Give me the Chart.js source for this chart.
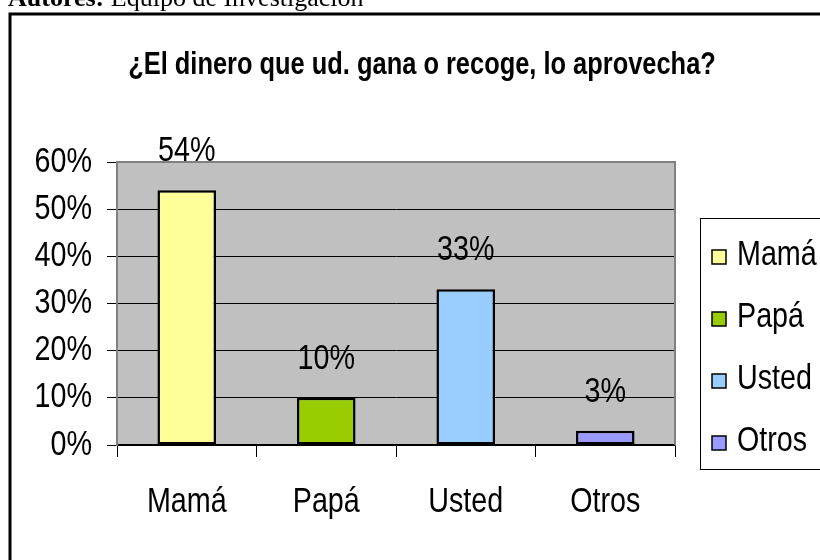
<!DOCTYPE html>
<html lang="es">
<head>
    <meta charset="UTF-8">
    <title>¿El dinero que ud. gana o recoge, lo aprovecha?</title>
    <script src="https://cdn.jsdelivr.net/npm/chart.js"></script>
    <style>
        html, body { margin: 0; padding: 0; background: #fff; overflow: hidden; }
        .contenedor { position: relative; width: 820px; height: 560px; }
        .autores {
            position: absolute; left: 8px; top: -15px; z-index: 2;
            font-family: 'Liberation Serif', 'Times New Roman', serif;
            font-size: 26px; line-height: 26px; white-space: nowrap; color: #000;
        }
        canvas { position: absolute; left: 0; top: 0; }
    </style>
</head>
<body>

    <div class="contenedor">
        <div class="autores"><b>Autores:</b> Equipo de Investigación</div>
        <canvas id="graficoDinero" width="820" height="560"></canvas>
    </div>

    <script>
    // datos del grafico
    const categorias = ['Mamá', 'Papá', 'Usted', 'Otros'];
    const porcentajes = [54, 10, 33, 3];
    const colores = ['#FFFF99', '#99CC00', '#99CCFF', '#9999FF'];
    const tituloTexto = '¿El dinero que ud. gana o recoge, lo aprovecha?';

    const fuente = "'Liberation Sans', Arial, sans-serif";
    const ESTRECHO = 0.82; // simula Arial Narrow

    // texto angosto: Liberation Sans comprimido en horizontal
    function textoAngosto(ctx, txt, x, y, align, size, bold, baseline) {
        ctx.save();
        ctx.translate(x, y);
        ctx.scale(ESTRECHO, 1);
        ctx.font = (bold ? 'bold ' : '') + size + 'px ' + fuente;
        ctx.textAlign = align;
        ctx.textBaseline = baseline || 'alphabetic';
        ctx.fillStyle = '#000';
        ctx.fillText(txt, 0, 0);
        ctx.restore();
    }

    // fondo gris, marco, titulo, etiquetas, leyenda
    const fondoPlugin = {
        id: 'fondo',
        beforeDraw(chart) {
            const ctx = chart.ctx;
            const a = chart.chartArea;
            ctx.save();
            ctx.fillStyle = '#fff';
            ctx.fillRect(0, 0, chart.width, chart.height);
            ctx.strokeStyle = '#000';
            ctx.lineWidth = 3;
            ctx.strokeRect(10, 14, 1000, 1000);
            ctx.fillStyle = '#C0C0C0';
            ctx.fillRect(a.left, a.top, a.right - a.left, a.bottom - a.top);
            ctx.restore();
            textoAngosto(ctx, tituloTexto, 422, 74, 'center', 31, true);
        },
        afterDraw(chart) {
            const ctx = chart.ctx;
            const a = chart.chartArea;
            ctx.save();
            // borde gris arriba y derecha
            ctx.strokeStyle = '#808080';
            ctx.lineWidth = 2;
            ctx.beginPath();
            ctx.moveTo(a.left, a.top);
            ctx.lineTo(a.right, a.top);
            ctx.lineTo(a.right, a.bottom);
            ctx.stroke();
            ctx.restore();

            // etiquetas de los ejes
            const sy = chart.scales.y;
            sy.ticks.forEach((t, i) => {
                textoAngosto(ctx, t.value + '%', 92, sy.getPixelForTick(i), 'right', 35, false, 'middle');
            });
            const sx = chart.scales.x;
            categorias.forEach((cat, i) => {
                textoAngosto(ctx, cat, sx.getPixelForTick(i), 512, 'center', 35, false);
            });

            // etiquetas de valor
            const meta = chart.getDatasetMeta(0);
            meta.data.forEach((bar, i) => {
                textoAngosto(ctx, porcentajes[i] + '%', bar.x, bar.y - 29, 'center', 35, false);
            });

            // leyenda
            ctx.save();
            ctx.strokeStyle = '#000';
            ctx.lineWidth = 1;
            ctx.strokeRect(700.5, 218.5, 200, 251);
            categorias.forEach((cat, i) => {
                const cy = 253 + i * 62;
                ctx.fillStyle = colores[i];
                ctx.fillRect(712, cy - 3, 14, 14);
                ctx.lineWidth = 1.5;
                ctx.strokeRect(712, cy - 3, 14, 14);
                textoAngosto(ctx, cat, 737, cy + 12, 'left', 35, false);
            });
            ctx.restore();
        }
    };

    const ctx = document.getElementById('graficoDinero').getContext('2d');
    const chart = new Chart(ctx, {
        type: 'bar',
        data: {
            labels: categorias,
            datasets: [
                {
                    label: 'Porcentaje',
                    data: porcentajes,
                    backgroundColor: colores,
                    borderColor: '#000',
                    borderWidth: 2.5,
                    borderSkipped: false,
                    barPercentage: 0.42,
                    categoryPercentage: 1
                }
            ]
        },
        options: {
            responsive: false,
            animation: false,
            layout: {
                padding: { left: 0, top: 162, right: 145, bottom: 0 }
            },
            plugins: {
                legend: { display: false },
                title: { display: false },
                tooltip: { enabled: false }
            },
            scales: {
                x: {
                    grid: {
                        offset: true,
                        drawOnChartArea: false,
                        drawTicks: true,
                        tickLength: 12,
                        color: '#000',
                        lineWidth: 1
                    },
                    border: { color: '#000', width: 1.5 },
                    ticks: { display: false },
                    afterFit(scale) { scale.height = 115; }
                },
                y: {
                    min: 0,
                    max: 60,
                    grid: {
                        color: '#000',
                        lineWidth: 1,
                        tickLength: 10
                    },
                    border: { color: '#808080', width: 2 },
                    ticks: { display: false, stepSize: 10 },
                    afterFit(scale) { scale.width = 117; }
                }
            }
        },
        plugins: [fondoPlugin]
    });
    </script>

</body>
</html>
